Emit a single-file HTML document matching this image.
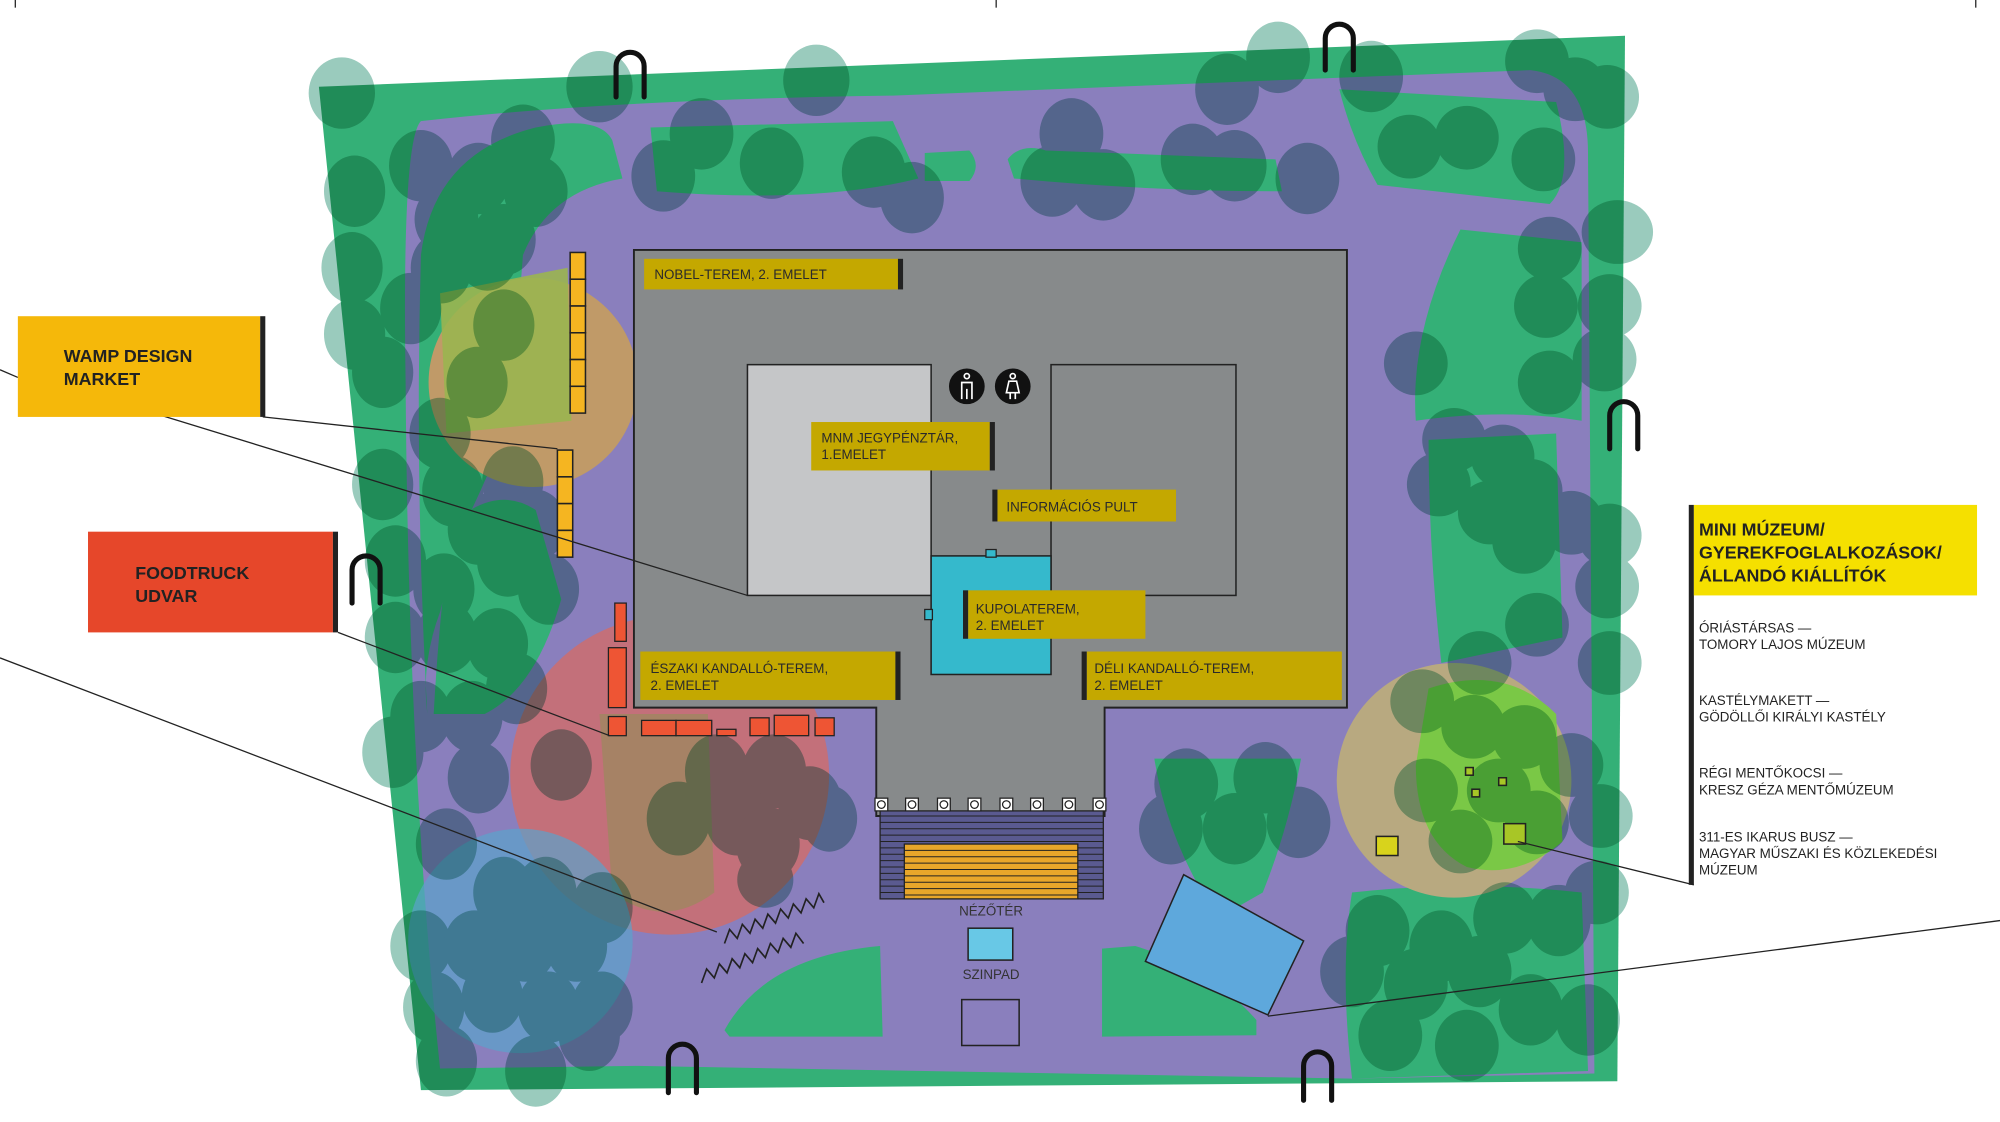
<!DOCTYPE html>
<html><head><meta charset="utf-8"><style>
html,body{margin:0;padding:0;background:#fff;}
svg{display:block;}
text{font-family:"Liberation Sans",sans-serif;}
.t{mix-blend-mode:multiply;fill:#9acbbd;}
</style></head><body>
<svg width="2000" height="1122" viewBox="0 0 1568 880" preserveAspectRatio="none" xmlns="http://www.w3.org/2000/svg">
<rect width="1568" height="880" fill="#fff"/>
<g stroke="#222" stroke-width="1"><line x1="12" y1="0" x2="12" y2="6"/><line x1="781" y1="0" x2="781" y2="6"/><line x1="1549" y1="0" x2="1549" y2="6"/></g>
<g style="isolation:isolate">
<polygon points="250,68 1274,28 1268,848 330,855" fill="#34b077"/>
<path d="M330,95 Q480,78 700,75 L1200,55 Q1245,60 1245,120 L1250,842 L1060,846 L500,836 L345,838 Q320,600 318,300 Q315,110 330,95 Z" fill="#8a7fbd"/>
<path d="M330,200 Q340,120 420,100 Q470,90 480,110 L488,140 Q430,150 410,200 L400,330 Q380,380 360,420 L345,480 Q330,520 335,560 Q325,380 330,200 Z" fill="#34b077"/>
<path d="M355,410 Q390,380 420,400 L440,470 Q420,540 380,560 L340,560 Q345,470 355,410 Z" fill="#34b077"/>
<path d="M510,100 L700,95 L720,140 Q640,160 515,150 Z" fill="#34b077"/>
<path d="M790,125 Q800,112 820,118 L1000,125 L1005,150 Q900,150 795,140 Z" fill="#34b077"/>
<path d="M725,120 L760,118 Q770,130 760,142 L725,142 Z" fill="#34b077"/>
<path d="M1050,70 L1220,80 Q1235,140 1215,160 L1080,145 Q1060,110 1050,70 Z" fill="#34b077"/>
<path d="M1145,180 L1240,190 L1240,330 Q1180,320 1110,330 Q1105,260 1145,180 Z" fill="#34b077"/>
<path d="M1120,345 L1220,340 L1225,500 L1130,520 Q1120,430 1120,345 Z" fill="#34b077"/>
<path d="M1060,700 Q1150,690 1240,700 L1245,840 L1060,846 Q1050,760 1060,700 Z" fill="#34b077"/>
<path d="M905,595 L1020,595 Q1010,650 990,700 L955,720 Q915,660 905,595 Z" fill="#34b077"/>
<path d="M568,808 Q600,750 690,742 L692,813 L572,813 Z" fill="#34b077"/>
<path d="M864,744 L890,742 Q950,760 985,800 L985,812 L864,813 Z" fill="#34b077"/>
<circle cx="418" cy="300" r="82" fill="#c09a68"/>
<path d="M345,230 L445,210 L448,330 L350,340 Z" fill="#9ab550" opacity="0.9"/>
<circle cx="525" cy="608" r="125" fill="#c3707a"/>
<path d="M470,560 L555,560 L560,700 Q520,730 480,700 Z" fill="#9a8a5c" opacity="0.7"/>
<circle cx="408" cy="738" r="88" fill="#5ba3cc" opacity="0.7"/>
<circle cx="1140" cy="612" r="92" fill="#b8a980"/>
<path d="M1120,540 Q1180,520 1220,560 L1225,660 Q1190,690 1150,680 Q1110,660 1110,600 Z" fill="#7ac846"/>
<g class="t">
<ellipse cx="268" cy="73" rx="26" ry="28"/><ellipse cx="470" cy="68" rx="26" ry="28"/><ellipse cx="640" cy="63" rx="26" ry="28"/>
<ellipse cx="330" cy="130" rx="25" ry="28"/><ellipse cx="410" cy="110" rx="25" ry="28"/><ellipse cx="375" cy="140" rx="25" ry="28"/><ellipse cx="420" cy="150" rx="25" ry="28"/>
<ellipse cx="350" cy="172" rx="25" ry="28"/><ellipse cx="395" cy="188" rx="25" ry="28"/><ellipse cx="520" cy="138" rx="25" ry="28"/><ellipse cx="550" cy="105" rx="25" ry="28"/>
<ellipse cx="605" cy="128" rx="25" ry="28"/><ellipse cx="685" cy="135" rx="25" ry="28"/><ellipse cx="715" cy="155" rx="25" ry="28"/><ellipse cx="825" cy="142" rx="25" ry="28"/>
<ellipse cx="840" cy="105" rx="25" ry="28"/><ellipse cx="865" cy="145" rx="25" ry="28"/><ellipse cx="935" cy="125" rx="25" ry="28"/><ellipse cx="968" cy="130" rx="25" ry="28"/>
<ellipse cx="1025" cy="140" rx="25" ry="28"/><ellipse cx="962" cy="70" rx="25" ry="28"/><ellipse cx="1002" cy="45" rx="25" ry="28"/><ellipse cx="1075" cy="60" rx="25" ry="28"/>
<ellipse cx="1105" cy="115" rx="25" ry="25"/><ellipse cx="1150" cy="108" rx="25" ry="25"/><ellipse cx="1205" cy="48" rx="25" ry="25"/><ellipse cx="1235" cy="70" rx="25" ry="25"/>
<ellipse cx="1260" cy="76" rx="25" ry="25"/><ellipse cx="1210" cy="125" rx="25" ry="25"/><ellipse cx="1268" cy="182" rx="28" ry="25"/><ellipse cx="1212" cy="240" rx="25" ry="25"/>
<ellipse cx="1262" cy="240" rx="25" ry="25"/><ellipse cx="1215" cy="300" rx="25" ry="25"/><ellipse cx="1258" cy="282" rx="25" ry="25"/><ellipse cx="1110" cy="285" rx="25" ry="25"/><ellipse cx="1215" cy="195" rx="25" ry="25"/>
<ellipse cx="1140" cy="345" rx="25" ry="25"/><ellipse cx="1178" cy="358" rx="25" ry="25"/><ellipse cx="1128" cy="380" rx="25" ry="25"/><ellipse cx="1168" cy="402" rx="25" ry="25"/>
<ellipse cx="1200" cy="385" rx="25" ry="25"/><ellipse cx="1195" cy="425" rx="25" ry="25"/><ellipse cx="1232" cy="410" rx="25" ry="25"/><ellipse cx="1262" cy="420" rx="25" ry="25"/>
<ellipse cx="1260" cy="460" rx="25" ry="25"/><ellipse cx="1205" cy="490" rx="25" ry="25"/><ellipse cx="1160" cy="520" rx="25" ry="25"/><ellipse cx="1262" cy="520" rx="25" ry="25"/>
<ellipse cx="1115" cy="550" rx="25" ry="25"/><ellipse cx="1155" cy="570" rx="25" ry="25"/><ellipse cx="1195" cy="578" rx="25" ry="25"/><ellipse cx="1232" cy="600" rx="25" ry="25"/>
<ellipse cx="1255" cy="640" rx="25" ry="25"/><ellipse cx="1175" cy="620" rx="25" ry="25"/><ellipse cx="1118" cy="620" rx="25" ry="25"/><ellipse cx="1145" cy="660" rx="25" ry="25"/>
<ellipse cx="1205" cy="645" rx="25" ry="25"/><ellipse cx="1252" cy="700" rx="25" ry="25"/><ellipse cx="1080" cy="730" rx="25" ry="28"/><ellipse cx="1130" cy="742" rx="25" ry="28"/>
<ellipse cx="1180" cy="720" rx="25" ry="28"/><ellipse cx="1222" cy="722" rx="25" ry="28"/><ellipse cx="1060" cy="762" rx="25" ry="28"/><ellipse cx="1110" cy="772" rx="25" ry="28"/>
<ellipse cx="1160" cy="762" rx="25" ry="28"/><ellipse cx="1200" cy="792" rx="25" ry="28"/><ellipse cx="1245" cy="800" rx="25" ry="28"/><ellipse cx="1090" cy="812" rx="25" ry="28"/><ellipse cx="1150" cy="820" rx="25" ry="28"/>
<ellipse cx="930" cy="615" rx="25" ry="28"/><ellipse cx="992" cy="610" rx="25" ry="28"/><ellipse cx="918" cy="650" rx="25" ry="28"/><ellipse cx="968" cy="650" rx="25" ry="28"/><ellipse cx="1018" cy="645" rx="25" ry="28"/>
<ellipse cx="278" cy="150" rx="24" ry="28"/><ellipse cx="276" cy="210" rx="24" ry="28"/><ellipse cx="278" cy="262" rx="24" ry="28"/><ellipse cx="300" cy="292" rx="24" ry="28"/>
<ellipse cx="322" cy="242" rx="24" ry="28"/><ellipse cx="346" cy="210" rx="24" ry="28"/><ellipse cx="382" cy="200" rx="24" ry="28"/><ellipse cx="395" cy="255" rx="24" ry="28"/>
<ellipse cx="374" cy="300" rx="24" ry="28"/><ellipse cx="345" cy="340" rx="24" ry="28"/><ellipse cx="402" cy="378" rx="24" ry="28"/><ellipse cx="420" cy="412" rx="24" ry="28"/>
<ellipse cx="375" cy="415" rx="24" ry="28"/><ellipse cx="355" cy="385" rx="24" ry="28"/><ellipse cx="300" cy="380" rx="24" ry="28"/><ellipse cx="310" cy="440" rx="24" ry="28"/>
<ellipse cx="348" cy="462" rx="24" ry="28"/><ellipse cx="398" cy="440" rx="24" ry="28"/><ellipse cx="430" cy="462" rx="24" ry="28"/><ellipse cx="310" cy="500" rx="24" ry="28"/>
<ellipse cx="350" cy="500" rx="24" ry="28"/><ellipse cx="390" cy="505" rx="24" ry="28"/><ellipse cx="405" cy="540" rx="24" ry="28"/><ellipse cx="370" cy="562" rx="24" ry="28"/>
<ellipse cx="330" cy="562" rx="24" ry="28"/><ellipse cx="308" cy="590" rx="24" ry="28"/><ellipse cx="375" cy="610" rx="24" ry="28"/><ellipse cx="440" cy="600" rx="24" ry="28"/>
<ellipse cx="350" cy="662" rx="24" ry="28"/><ellipse cx="395" cy="700" rx="24" ry="28"/><ellipse cx="428" cy="700" rx="24" ry="28"/><ellipse cx="330" cy="742" rx="24" ry="28"/>
<ellipse cx="372" cy="742" rx="24" ry="28"/><ellipse cx="412" cy="742" rx="24" ry="28"/><ellipse cx="452" cy="742" rx="24" ry="28"/><ellipse cx="340" cy="790" rx="24" ry="28"/>
<ellipse cx="386" cy="782" rx="24" ry="28"/><ellipse cx="430" cy="790" rx="24" ry="28"/><ellipse cx="472" cy="790" rx="24" ry="28"/><ellipse cx="350" cy="832" rx="24" ry="28"/>
<ellipse cx="420" cy="840" rx="24" ry="28"/><ellipse cx="472" cy="712" rx="24" ry="28"/><ellipse cx="462" cy="812" rx="24" ry="28"/>
<ellipse cx="562" cy="605" rx="25" ry="29"/><ellipse cx="607" cy="605" rx="25" ry="29"/><ellipse cx="532" cy="642" rx="25" ry="29"/><ellipse cx="578" cy="642" rx="25" ry="29"/>
<ellipse cx="635" cy="630" rx="25" ry="29"/><ellipse cx="650" cy="642" rx="22" ry="26"/><ellipse cx="602" cy="662" rx="25" ry="29"/><ellipse cx="600" cy="690" rx="22" ry="22"/>
</g>
</g>
<g stroke="#222" stroke-width="1.2" fill="#f5b521">
<rect x="447" y="198" width="12" height="21"/><rect x="447" y="219" width="12" height="21"/><rect x="447" y="240" width="12" height="21"/><rect x="447" y="261" width="12" height="21"/><rect x="447" y="282" width="12" height="21"/><rect x="447" y="303" width="12" height="21"/>
<rect x="437" y="353" width="12" height="21"/><rect x="437" y="374" width="12" height="21"/><rect x="437" y="395" width="12" height="21"/><rect x="437" y="416" width="12" height="21"/>
</g>
<g stroke="#222" stroke-width="1" fill="#ee5534">
<rect x="482" y="473" width="9" height="30"/><rect x="477" y="508" width="14" height="47"/><rect x="477" y="562" width="14" height="15"/>
<rect x="503" y="565" width="27" height="12"/><rect x="530" y="565" width="28" height="12"/><rect x="562" y="572" width="15" height="5"/>
<rect x="588" y="563" width="15" height="14"/><rect x="607" y="561" width="27" height="16"/><rect x="639" y="563" width="15" height="14"/>
</g>
<path d="M497,196 H1056 V555 H866 V640 H687 V555 H497 Z" fill="#878a8b" stroke="#222" stroke-width="1.5"/>
<rect x="586" y="286" width="144" height="181" fill="#c5c6c8" stroke="#222" stroke-width="1.2"/>
<rect x="824" y="286" width="145" height="181" fill="none" stroke="#222" stroke-width="1.2"/>
<rect x="730" y="436" width="94" height="93" fill="#35b9cc" stroke="#222" stroke-width="1.2"/>
<rect x="773" y="431" width="8" height="6" fill="#35b9cc" stroke="#222" stroke-width="1"/>
<rect x="725" y="478" width="6" height="8" fill="#35b9cc" stroke="#222" stroke-width="1"/>
<circle cx="758" cy="303" r="14" fill="#111"/><circle cx="794" cy="303" r="14" fill="#111"/>
<g stroke="#fff" stroke-width="1.3" fill="none"><circle cx="758" cy="295" r="2"/><path d="M754,313 V300 H762 V313 M758,305 V313"/><circle cx="794" cy="295" r="2"/><path d="M791,299 H797 L799,308 H789 Z M792,308 V313 M796,308 V313"/></g>
<g fill="#c4a800">
<rect x="505" y="203" width="200" height="24"/><rect x="636" y="331" width="140" height="38"/><rect x="782" y="384" width="140" height="25"/>
<rect x="759" y="463" width="139" height="38"/><rect x="502" y="511" width="200" height="38"/><rect x="852" y="511" width="200" height="38"/>
</g>
<g fill="#222"><rect x="704" y="203" width="4" height="24"/><rect x="776" y="331" width="4" height="38"/><rect x="778" y="384" width="4" height="25"/><rect x="755" y="463" width="4" height="38"/><rect x="702" y="511" width="4" height="38"/><rect x="848" y="511" width="4" height="38"/></g>
<g font-size="10.5" fill="#2a2a2a">
<text x="513" y="219">NOBEL-TEREM, 2. EMELET</text>
<text x="644" y="347">MNM JEGYPÉNZTÁR,</text><text x="644" y="360">1.EMELET</text>
<text x="789" y="401">INFORMÁCIÓS PULT</text>
<text x="765" y="481">KUPOLATEREM,</text><text x="765" y="494">2. EMELET</text>
<text x="510" y="528">ÉSZAKI KANDALLÓ-TEREM,</text><text x="510" y="541">2. EMELET</text>
<text x="858" y="528">DÉLI KANDALLÓ-TEREM,</text><text x="858" y="541">2. EMELET</text>
</g>
<rect x="690" y="636" width="175" height="69" fill="#5a5a90" stroke="#222" stroke-width="1"/>
<g stroke="#222" stroke-width="0.8">
<line x1="690" y1="640" x2="865" y2="640"/><line x1="690" y1="645" x2="865" y2="645"/><line x1="690" y1="650" x2="865" y2="650"/><line x1="690" y1="655" x2="865" y2="655"/><line x1="690" y1="660" x2="865" y2="660"/><line x1="690" y1="665" x2="865" y2="665"/><line x1="690" y1="670" x2="865" y2="670"/><line x1="690" y1="675" x2="865" y2="675"/><line x1="690" y1="680" x2="865" y2="680"/><line x1="690" y1="685" x2="865" y2="685"/><line x1="690" y1="690" x2="865" y2="690"/><line x1="690" y1="695" x2="865" y2="695"/><line x1="690" y1="700" x2="865" y2="700"/>
</g>
<rect x="709" y="662" width="136" height="43" fill="#e8a62a" stroke="#222" stroke-width="1"/>
<g stroke="#222" stroke-width="0.8"><line x1="709" y1="667" x2="845" y2="667"/><line x1="709" y1="672" x2="845" y2="672"/><line x1="709" y1="677" x2="845" y2="677"/><line x1="709" y1="682" x2="845" y2="682"/><line x1="709" y1="687" x2="845" y2="687"/><line x1="709" y1="692" x2="845" y2="692"/><line x1="709" y1="697" x2="845" y2="697"/><line x1="709" y1="702" x2="845" y2="702"/></g>
<g fill="#fff" stroke="#222" stroke-width="1">
<rect x="686" y="626" width="10" height="10"/><rect x="710" y="626" width="10" height="10"/><rect x="735" y="626" width="10" height="10"/><rect x="759" y="626" width="10" height="10"/><rect x="784" y="626" width="10" height="10"/><rect x="808" y="626" width="10" height="10"/><rect x="833" y="626" width="10" height="10"/><rect x="857" y="626" width="10" height="10"/>
<circle cx="691" cy="631" r="3"/><circle cx="715" cy="631" r="3"/><circle cx="740" cy="631" r="3"/><circle cx="764" cy="631" r="3"/><circle cx="789" cy="631" r="3"/><circle cx="813" cy="631" r="3"/><circle cx="838" cy="631" r="3"/><circle cx="862" cy="631" r="3"/>
</g>
<text x="777" y="718" font-size="10.5" fill="#333" text-anchor="middle">NÉZŐTÉR</text>
<rect x="759" y="728" width="35" height="25" fill="#68c8e6" stroke="#222" stroke-width="1.2"/>
<text x="777" y="768" font-size="10.5" fill="#333" text-anchor="middle">SZINPAD</text>
<rect x="754" y="784" width="45" height="36" fill="none" stroke="#222" stroke-width="1.2"/>
<polygon points="928,686 1022,738 994,796 898,754" fill="#5ea8dc" stroke="#222" stroke-width="1.2"/>
<g fill="none" stroke="#222" stroke-width="1.3">
<polyline points="568,740 572,729 578,736 582,725 588,732 592,721 598,728 602,717 608,724 612,713 618,720 622,709 628,716 632,705 638,712 642,701 646,708"/>
<polyline points="550,771 554,760 560,767 564,756 570,763 574,752 580,759 584,748 590,755 594,744 600,751 604,740 610,747 614,736 620,743 624,732 630,740"/>
</g>
<g stroke="#222" stroke-width="1.2" fill="#a8c626">
<rect x="1079" y="656" width="17" height="15" fill="#d8d31c"/><rect x="1179" y="646" width="17" height="16"/>
<rect x="1149" y="602" width="6" height="6"/><rect x="1175" y="610" width="6" height="6"/><rect x="1154" y="619" width="6" height="6"/>
</g>
<g fill="none" stroke="#111" stroke-width="4" stroke-linecap="round">
<path d="M483,76 V52 A11,11 0 0 1 505,52 V76"/>
<path d="M1039,55 V30 A11,11 0 0 1 1061,30 V55"/>
<path d="M1262,352 V326 A11,11 0 0 1 1284,326 V352"/>
<path d="M276,473 V447 A11,11 0 0 1 298,447 V473"/>
<path d="M524,857 V830 A11,11 0 0 1 546,830 V857"/>
<path d="M1022,863 V836 A11,11 0 0 1 1044,836 V863"/>
</g>
<g stroke="#222" stroke-width="1" fill="none">
<line x1="0" y1="290" x2="14" y2="296"/>
<line x1="206" y1="327" x2="437" y2="352"/>
<line x1="127" y1="326" x2="586" y2="467"/>
<line x1="265" y1="496" x2="478" y2="577"/>
<line x1="0" y1="516" x2="562" y2="731"/>
<line x1="1328" y1="694" x2="1190" y2="660"/>
<line x1="1568" y1="722" x2="994" y2="797"/>
</g>
<rect x="14" y="248" width="190" height="79" fill="#f5b80a"/><rect x="204" y="248" width="4" height="79" fill="#222"/>
<text font-size="14" font-weight="bold" fill="#222"><tspan x="50" y="284">WAMP DESIGN</tspan><tspan x="50" y="302">MARKET</tspan></text>
<rect x="69" y="417" width="192" height="79" fill="#e6472a"/><rect x="261" y="417" width="4" height="79" fill="#222"/>
<text font-size="14" font-weight="bold" fill="#222"><tspan x="106" y="454">FOODTRUCK</tspan><tspan x="106" y="472">UDVAR</tspan></text>
<rect x="1324" y="396" width="4" height="298" fill="#222"/>
<rect x="1328" y="396" width="222" height="71" fill="#f5e000"/>
<text font-size="14" font-weight="bold" fill="#222"><tspan x="1332" y="420">MINI MÚZEUM/</tspan><tspan x="1332" y="438">GYEREKFOGLALKOZÁSOK/</tspan><tspan x="1332" y="456">ÁLLANDÓ KIÁLLÍTÓK</tspan></text>
<g font-size="10.5" fill="#222">
<text x="1332" y="496">ÓRIÁSTÁRSAS —</text><text x="1332" y="509">TOMORY LAJOS MÚZEUM</text>
<text x="1332" y="553">KASTÉLYMAKETT —</text><text x="1332" y="566">GÖDÖLLŐI KIRÁLYI KASTÉLY</text>
<text x="1332" y="610">RÉGI MENTŐKOCSI —</text><text x="1332" y="623">KRESZ GÉZA MENTŐMÚZEUM</text>
<text x="1332" y="660">311-ES IKARUS BUSZ —</text><text x="1332" y="673">MAGYAR MŰSZAKI ÉS KÖZLEKEDÉSI</text><text x="1332" y="686">MÚZEUM</text>
</g>
</svg>
</body></html>
